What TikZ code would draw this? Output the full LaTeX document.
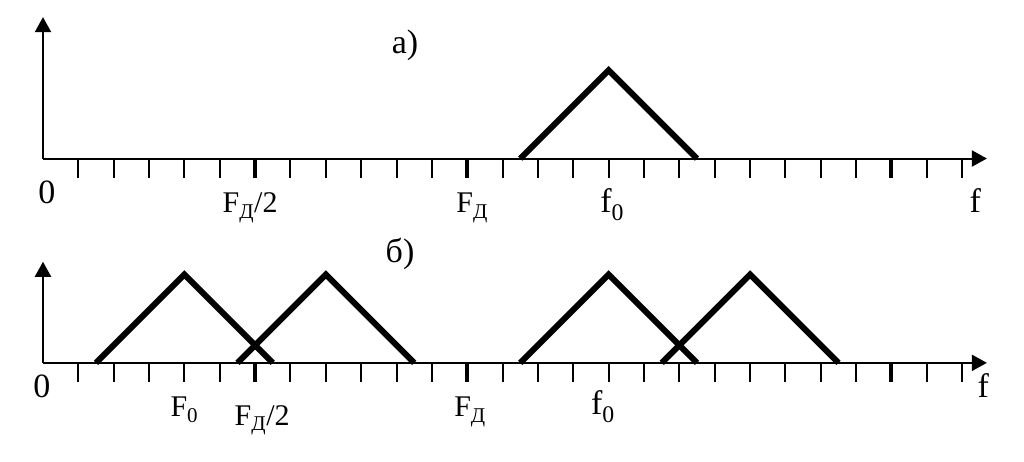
\documentclass[tikz,border=0pt]{standalone}
\usepackage{fontspec}
\setmainfont{Liberation Serif}
\usetikzlibrary{arrows.meta}

\begin{document}
\begin{tikzpicture}
  [x=35.35pt,y=35.35pt,
   every node/.style={font=\fontsize{30}{34}\selectfont,inner sep=0pt,anchor=base},
   big/.style={font=\fontsize{34}{38}\selectfont},
   axis/.style={line width=2pt,-{Triangle[length=15pt,width=16pt]}},
   tick/.style={line width=2pt},
   major/.style={line width=4pt},
   band/.style={line width=6pt}]
  \useasboundingbox (-1.216,-8.557) rectangle (27.75,4.484);

  % a)
  \coordinate (oa) at (0,0);
  \draw[axis] (oa) -- (0,4);
  \draw[axis] (oa) -- (26.7,0);
  \foreach \i in {1,...,26} \draw[tick] (\i,0) -- (\i,-0.54);
  \foreach \i in {6,12,24} \draw[major] (\i,0) -- (\i,-0.54);
  \draw[band] (13.5,0) -- (16,2.5) -- (18.5,0);

  \node[big] (capa) at (10.24,2.98) {а)};
  \node[big] (zeroa) at (0.11,-1.28) {0};
  \node (halfa) at (5.86,-1.54) {F\textsubscript{Д}/2};
  \node (fda) at (12.14,-1.54) {F\textsubscript{Д}};
  \node[big] (f0a) at (16.1,-1.54) {f\textsubscript{0}};
  \node[big] (fa) at (26.37,-1.54) {f};

  % b)
  \begin{scope}[yshift=-5.78*35.35pt]
    \coordinate (ob) at (0,0);
    \draw[axis] (ob) -- (0,2.86);
    \draw[axis] (ob) -- (26.7,0);
    \foreach \i in {1,...,26} \draw[tick] (\i,0) -- (\i,-0.54);
    \foreach \i in {6,12,24} \draw[major] (\i,0) -- (\i,-0.54);
    \foreach \c in {4,8,16,20}
      \draw[band] (\c-2.5,0) -- (\c,2.5) -- (\c+2.5,0);
  \end{scope}

  \node[big] (capb) at (10.1,-2.93) {б)};
  \node[big] (zerob) at (-0.03,-6.77) {0};
  \node (Fzb) at (4.0,-7.31) {F\textsubscript{0}};
  \node (halfb) at (6.2,-7.54) {F\textsubscript{Д}/2};
  \node (fdb) at (12.08,-7.31) {F\textsubscript{Д}};
  \node[big] (f0b) at (15.84,-7.25) {f\textsubscript{0}};
  \node[big] (fb) at (26.6,-6.76) {f};

\end{tikzpicture}
\end{document}
